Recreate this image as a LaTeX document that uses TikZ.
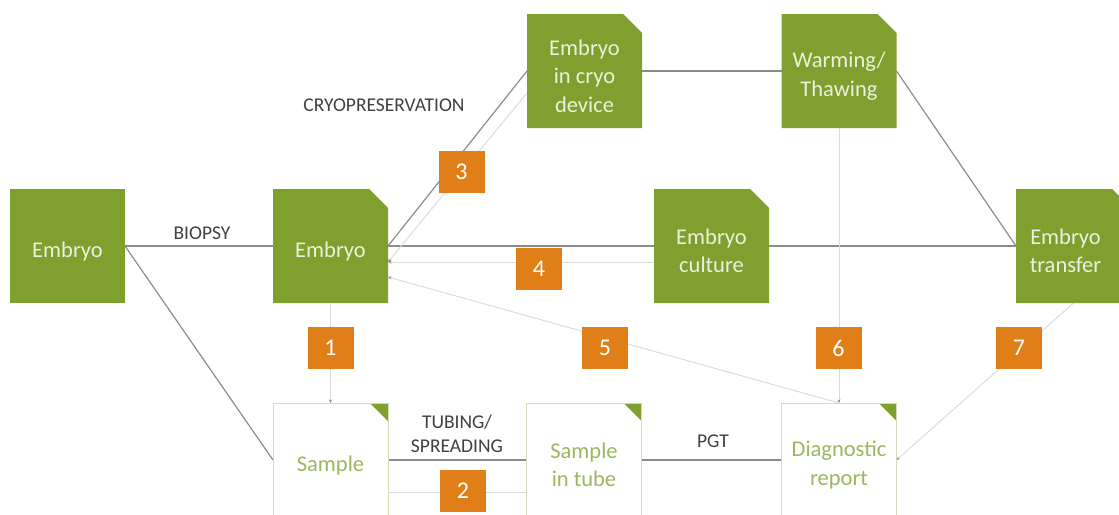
\documentclass[tikz,border=0pt]{standalone}
\usepackage{fontspec}
\setmainfont{Carlito}
\usetikzlibrary{arrows.meta,backgrounds}
\definecolor{leaf}{HTML}{7FA02E}
\definecolor{leaftext}{HTML}{EAF1DC}
\definecolor{samplegreen}{HTML}{9DB760}
\definecolor{sampleedge}{HTML}{D3DEBB}
\definecolor{tag}{HTML}{E07F18}
\definecolor{flow}{HTML}{8C8C8C}
\definecolor{trace}{HTML}{DCDCDC}
\definecolor{caption}{HTML}{404040}

\begin{document}
\begin{tikzpicture}[x=1pt,y=-1pt,
  gbox/.style={minimum width=115pt, minimum height=114pt, inner sep=0pt, outer sep=0pt},
  boxtext/.style={inner sep=0pt, align=center, yshift=-5pt,
    font=\fontsize{22.5}{28.5}\selectfont},
  plainbox/.style={gbox, fill=leaf, label={[boxtext, text=leaftext]center:{#1}}},
  cutshape/.style={gbox,
    path picture={\fill[leaf] (path picture bounding box.south west)
      -- (path picture bounding box.north west)
      -- ([xshift=-19pt]path picture bounding box.north east)
      -- ([yshift=-19pt]path picture bounding box.north east)
      -- (path picture bounding box.south east) -- cycle;}},
  cutbox/.style={cutshape, label={[boxtext, text=leaftext]center:{#1}}},
  samplebox/.style={gbox, draw=sampleedge, line width=0.8pt, fill=white,
    label={[boxtext, text=samplegreen]center:{#1}},
    path picture={\fill[leaf] ([xshift=-18pt]path picture bounding box.north east)
      -- (path picture bounding box.north east)
      -- ([yshift=-18pt]path picture bounding box.north east) -- cycle;}},
  tagbox/.style={fill=tag, text=white, minimum width=46pt, minimum height=42pt,
    inner sep=0pt, font=\fontsize{24}{24}\selectfont},
  tlabel/.style={text=caption, font=\fontsize{19.5}{24}\selectfont, align=center, inner sep=0pt},
  flowline/.style={draw=flow, line width=1.2pt},
  traceline/.style={draw=trace, line width=1pt},
  tracearrow/.style={traceline, -{Stealth[length=3.5pt,width=3pt,color=flow]}},
]
\useasboundingbox (0,0) rectangle (1119,514);

% process steps
\node[plainbox={Embryo}] (emb0) at (67.5,246) {};
\node[cutbox={Embryo}] (emb) at (330.5,246) {};
\node[cutbox={Embryo\\in cryo\\device}] (cryo) at (584.5,71) {};
\node[cutbox={Warming/\\Thawing}] (warm) at (839,71) {};
\node[cutbox={Embryo\\culture}] (culture) at (711.5,246) {};
\node[cutshape, label={[boxtext, text=leaftext, xshift=-8pt]center:{Embryo\\transfer}}] (transfer) at (1073.5,246) {};

% sample handling
\node[samplebox={Sample}] (sample) at (330.5,460) {};
\node[samplebox={Sample\\in tube}] (tube) at (584,460) {};
\node[samplebox={Diagnostic\\report}] (diag) at (839,460) {};

% step captions
\node[tlabel] (biopsy) at (202,233) {BIOPSY};
\node[tlabel] (cryolabel) at (384,105) {CRYOPRESERVATION};
\node[tlabel] (tubing) at (457,434) {TUBING/\\SPREADING};
\node[tlabel] (pgt) at (713,441) {PGT};

% numbered checkpoints
\node[tagbox] (t1) at (330.5,348) {1};
\node[tagbox] (t2) at (463,491) {2};
\node[tagbox] (t3) at (461.5,172) {3};
\node[tagbox] (t4) at (539,269) {4};
\node[tagbox] (t5) at (605,348) {5};
\node[tagbox] (t6) at (838.5,348) {6};
\node[tagbox] (t7) at (1019,348) {7};

\begin{scope}[on background layer]
  % main workflow
  \draw[flowline] (emb0.east) -- (emb.west);
  \draw[flowline] (emb0.east) -- (sample.west);
  \draw[flowline] (emb.east) -- (cryo.west);
  \draw[flowline] (emb.east) -- (culture.west);
  \draw[flowline] (culture.east) -- (transfer.west);
  \draw[flowline] (cryo.east) -- (warm.west);
  \draw[flowline] (warm.east) -- (transfer.west);
  \draw[flowline] (sample.east) -- (tube.west);
  \draw[flowline] (tube.east) -- (diag.west);
  % traceability links
  \draw[tracearrow] (emb.south) -- (sample.north);
  \draw[traceline] ([yshift=-32pt]tube.west) -- ([yshift=-32pt]sample.east);
  \draw[tracearrow] ([yshift=-22pt]cryo.west) -- ([yshift=-16pt]emb.east);
  \draw[tracearrow] ([yshift=-16pt]culture.west) -- ([yshift=-16pt]emb.east);
  \draw[tracearrow] (diag.north) -- ([yshift=-31pt]emb.east);
  \draw[tracearrow] (warm.south) -- (diag.north);
  \draw[tracearrow] (transfer.south) -- (diag.east);
\end{scope}
\end{tikzpicture}
\end{document}
